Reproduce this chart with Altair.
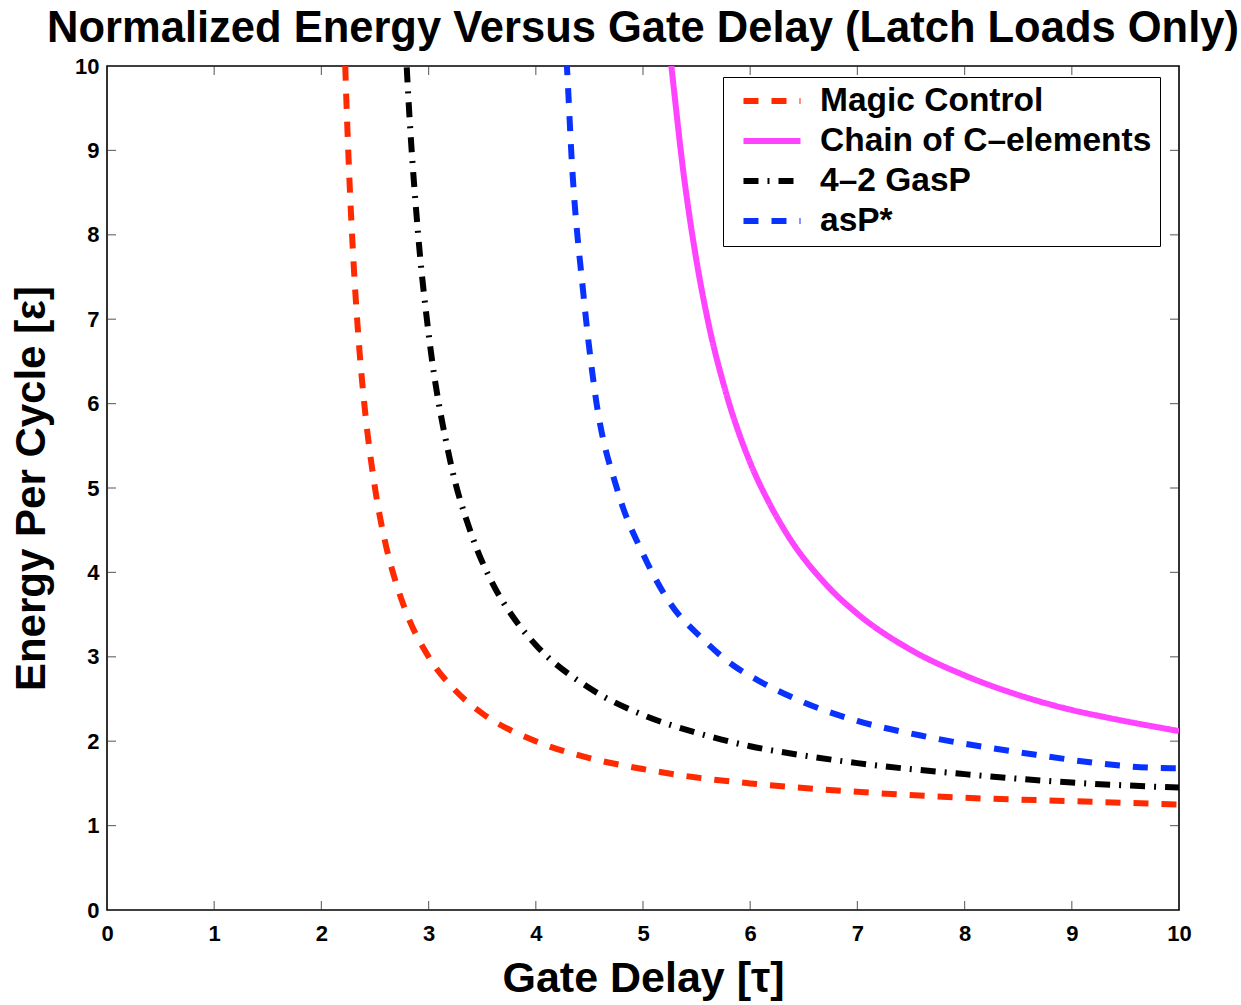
import altair as alt
import pandas as pd

# ---- data ----
series_names = ["Magic Control", "Chain of C–elements", "4–2 GasP", "asP*"]
series_colors = ["#FF2A00", "#FF44FF", "#000000", "#0A32FF"]
series_dashes = [[15, 13], [1, 0], [15, 9, 2, 9], [15, 13]]

magic_x = [2.20, 2.22, 2.26, 2.30, 2.35, 2.40, 2.50, 2.60, 2.70, 2.80, 3.00, 3.25, 3.50, 4.00, 4.50, 5.00, 5.50, 6.00, 7.00, 8.00, 9.00, 10.00]
magic_y = [11.0, 10.1, 8.70, 7.67, 6.71, 6.00, 5.00, 4.33, 3.86, 3.50, 3.00, 2.60, 2.33, 2.00, 1.80, 1.67, 1.57, 1.50, 1.40, 1.33, 1.29, 1.25]

chain_x = [5.23, 5.25, 5.30, 5.376, 5.43, 5.485, 5.609, 5.765, 6.00, 6.17, 6.34, 6.72, 7.00, 7.46, 8.00, 8.40, 9.00, 9.33, 10.00]
chain_y = [10.5, 10.2, 9.59, 8.75, 8.25, 7.80, 6.96, 6.17, 5.30, 4.84, 4.46, 3.84, 3.51, 3.11, 2.78, 2.59, 2.37, 2.28, 2.12]

gasp_x = [2.78, 2.80, 2.90, 3.00, 3.20, 3.40, 3.60, 3.80, 4.00, 4.50, 5.00, 5.50, 6.00, 6.50, 7.00, 8.00, 9.00, 10.00]
gasp_y = [10.4, 9.89, 8.04, 6.83, 5.33, 4.45, 3.86, 3.45, 3.14, 2.63, 2.31, 2.10, 1.94, 1.83, 1.74, 1.61, 1.51, 1.45]

asp_x = [4.27, 4.29, 4.335, 4.443, 4.552, 4.77, 5.00, 5.25, 5.55, 5.84, 6.06, 6.50, 7.00, 7.58, 8.50, 9.94, 10.00]
asp_y = [10.4, 10.0, 8.89, 7.31, 6.13, 4.94, 4.22, 3.64, 3.22, 2.90, 2.73, 2.46, 2.24, 2.07, 1.87, 1.68, 1.68]

tick_values = [0, 1, 2, 3, 4, 5, 6, 7, 8, 9, 10]
inner_ticks = [1, 2, 3, 4, 5, 6, 7, 8, 9]

rows = []
for name, xs, ys in [
    (series_names[0], magic_x, magic_y),
    (series_names[1], chain_x, chain_y),
    (series_names[2], gasp_x, gasp_y),
    (series_names[3], asp_x, asp_y),
]:
    for i, (xv, yv) in enumerate(zip(xs, ys)):
        rows.append({"series": name, "delay": xv, "energy": yv, "order": i})
df = pd.DataFrame(rows)
ticks_df = pd.DataFrame({"t": inner_ticks})

W, H = 1072, 844
FONT = "Liberation Sans"

xscale = alt.Scale(domain=[0, 10], nice=False, zero=False)
yscale = alt.Scale(domain=[0, 10], nice=False, zero=False)

legend = alt.Legend(
    orient="none", legendX=616, legendY=11, title=None,
    labelFontSize=33.5, labelFontWeight="bold", labelFont=FONT, labelColor="black",
    symbolType="stroke", symbolSize=3250, symbolStrokeWidth=6,
    clipHeight=32, padding=8, rowPadding=6, labelOffset=16, symbolOffset=9, labelLimit=600,
    strokeColor="black", fillColor="white", cornerRadius=0,
)

lines = alt.Chart(df).mark_line(clip=True, strokeWidth=6, interpolate="monotone").encode(
    x=alt.X("delay:Q", scale=xscale,
            axis=alt.Axis(values=tick_values, format="d", tickSize=0, domain=False, grid=False,
                          labelFontSize=22, labelFontWeight="bold", labelFont=FONT,
                          labelColor="black", labelPadding=13, labelFlush=False,
                          title="Gate Delay [τ]", titleFontSize=43, titleFont=FONT,
                          titleFontWeight="bold", titlePadding=13, titleColor="black")),
    y=alt.Y("energy:Q", scale=yscale,
            axis=alt.Axis(values=tick_values, format="d", tickSize=0, domain=False, grid=False,
                          labelFontSize=22, labelFontWeight="bold", labelFont=FONT,
                          labelColor="black", labelPadding=8, labelFlush=False,
                          title="Energy Per Cycle [ε]", titleFontSize=42, titleFont=FONT,
                          titleFontWeight="bold", titlePadding=21, titleColor="black")),
    color=alt.Color("series:N", sort=series_names,
                    scale=alt.Scale(domain=series_names, range=series_colors), legend=legend),
    strokeDash=alt.StrokeDash("series:N", sort=series_names,
                              scale=alt.Scale(domain=series_names, range=series_dashes), legend=legend),
    order="order:Q",
)

tick_style = dict(color="#333333", thickness=1.2, size=9)
bottom_ticks = alt.Chart(ticks_df).mark_tick(orient="vertical", yOffset=-4.5, **tick_style).encode(
    x=alt.X("t:Q", scale=xscale), y=alt.value(H))
top_ticks = alt.Chart(ticks_df).mark_tick(orient="vertical", yOffset=4.5, **tick_style).encode(
    x=alt.X("t:Q", scale=xscale), y=alt.value(0))
left_ticks = alt.Chart(ticks_df).mark_tick(orient="horizontal", xOffset=4.5, **tick_style).encode(
    y=alt.Y("t:Q", scale=yscale), x=alt.value(0))
right_ticks = alt.Chart(ticks_df).mark_tick(orient="horizontal", xOffset=-4.5, **tick_style).encode(
    y=alt.Y("t:Q", scale=yscale), x=alt.value(W))

chart = alt.layer(bottom_ticks, top_ticks, left_ticks, right_ticks, lines).properties(
    width=W, height=H,
    padding={"left": 107, "top": 66, "right": 62, "bottom": 95},
    autosize=alt.AutoSizeParams(type="none"),
    title=alt.TitleParams(
        "Normalized Energy Versus Gate Delay (Latch Loads Only)",
        fontSize=43.5, font=FONT, fontWeight="bold", color="black",
        anchor="middle", offset=4,
    ),
).configure(
    background="white",
    view=alt.ViewConfig(stroke="black", strokeWidth=1.6),
)

chart.save("out.html", embed_options={"renderer": "svg", "actions": False})
